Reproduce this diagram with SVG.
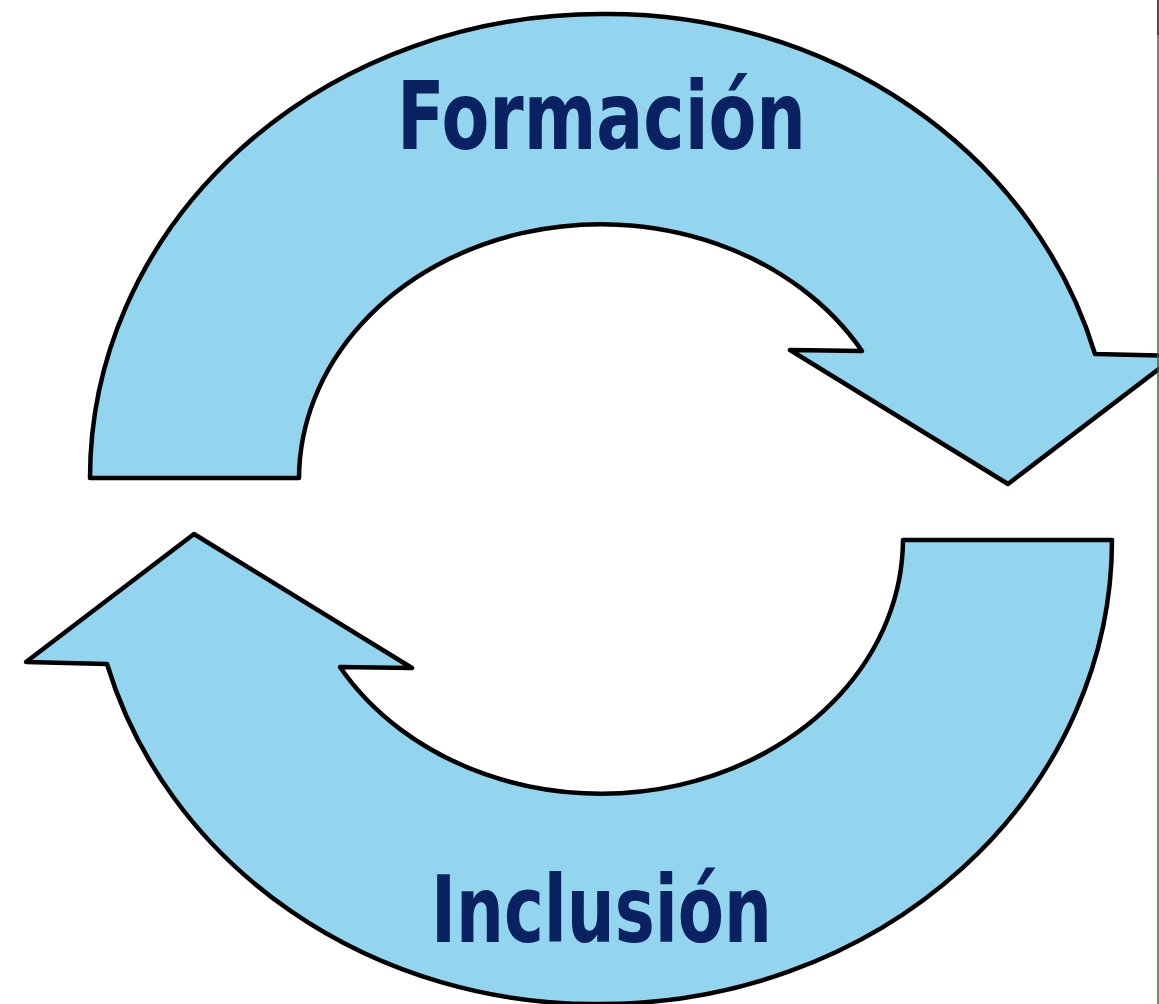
<svg xmlns="http://www.w3.org/2000/svg" width="1159" height="1004" viewBox="0 0 1159 1004">
<style>
.arrow{fill:#93d5ef;stroke:#000;stroke-width:4.5;stroke-linejoin:round}
.lbl{font-family:"DejaVu Sans Condensed","DejaVu Sans","Liberation Sans",sans-serif;font-weight:bold;fill:#0b2262}
</style>
<defs>
<path id="arrowShape" d="M 90,478 A 511,464 0 0 1 601,14 A 506,464 0 0 1 1095,354 L 1176,356 L 1008,484 L 790,350 L 862,351 A 302,255 0 0 0 299,478 Z"/>
</defs>
<rect width="1159" height="1004" fill="#fff"/>
<g id="connectors">
<g id="arrow-top"><use href="#arrowShape" class="arrow"/></g>
<g id="arrow-bottom"><use href="#arrowShape" class="arrow" transform="rotate(180 601 509)"/></g>
</g>
<g id="node-formacion"><text class="lbl" x="397" y="149" font-size="94" textLength="409" lengthAdjust="spacingAndGlyphs">Formación</text></g>
<g id="node-inclusion"><text class="lbl" x="431" y="942" font-size="92" textLength="341" lengthAdjust="spacingAndGlyphs">Inclusión</text></g>
<line x1="1158" y1="0" x2="1158" y2="35" stroke="#111" stroke-width="1.5"/>
<line x1="1158" y1="35" x2="1158" y2="175" stroke="#555" stroke-width="1.5"/>
<line x1="1158" y1="175" x2="1158" y2="1004" stroke="#157a3c" stroke-width="1.5"/>
</svg>
